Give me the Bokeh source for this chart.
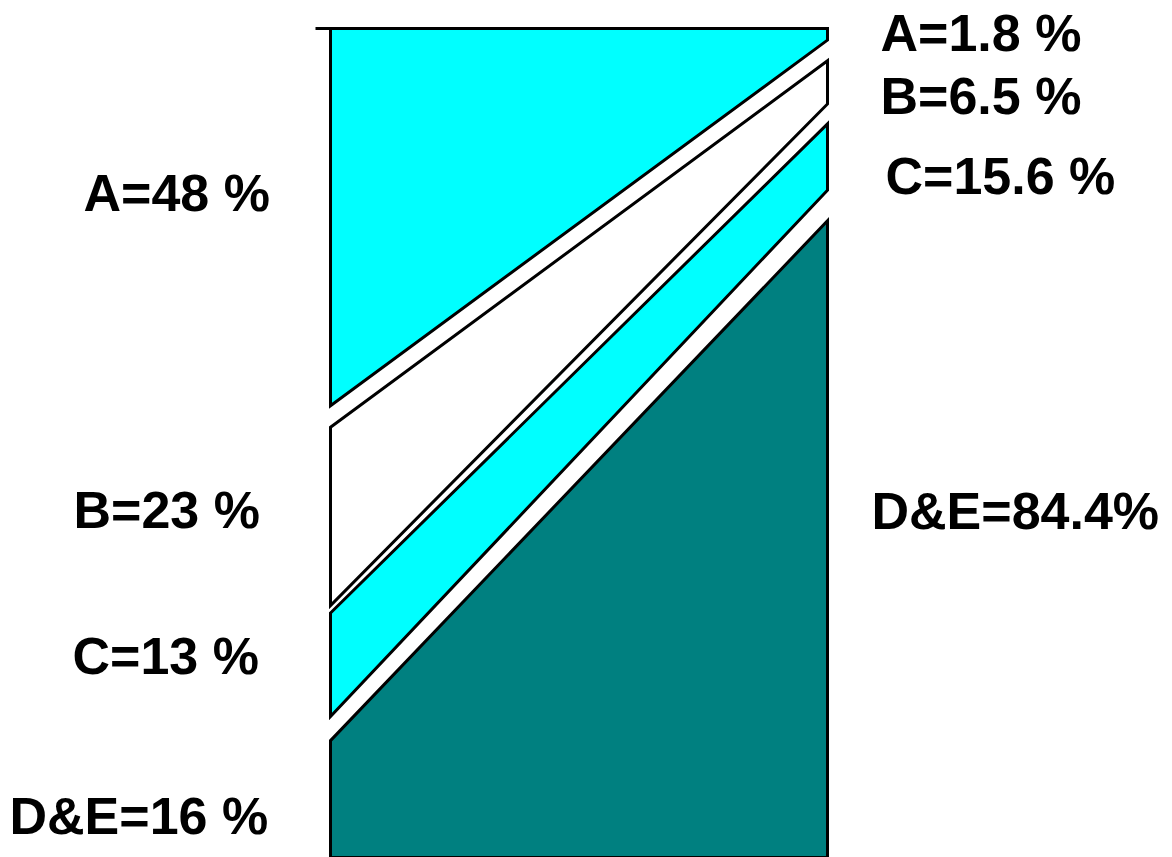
from bokeh.plotting import figure
from bokeh.models import Range1d
from bokeh.core.properties import value
from bokeh.embed import file_html
from bokeh.resources import INLINE

# ---- data (percent of column height, 0 = bottom, 100 = top) ----
bands = ["A", "B", "C", "D&E"]
left_top = [100.0, 51.9, 29.5, 14.1]
left_bottom = [54.5, 30.4, 17.0, 0.0]
right_top = [100.0, 96.1, 88.5, 76.8]
right_bottom = [98.6, 90.9, 80.5, 0.0]
left_labels = ["A=48 %", "B=23 %", "C=13 %", "D&E=16 %"]
right_labels = ["A=1.8 %", "B=6.5 %", "C=15.6 %", "D&E=84.4%"]

# ---- layout / style ----
W, H = 1172, 857
PX_LEFT, PX_RIGHT = 330, 827      # column edges in pixels
PX_TOP, PX_BOTTOM = 28, 857       # 100% and 0% in pixels
sx = PX_RIGHT - PX_LEFT
sy = (PX_BOTTOM - PX_TOP) / 100.0
band_colors = ["#00FFFF", "#FFFFFF", "#00FFFF", "#008080"]
TEXT_SHIFT = -18


def dx(px):
    return (px - PX_LEFT) / sx


def dy(py):
    return (PX_BOTTOM - py) / sy


p = figure(width=W, height=H, output_backend="svg", toolbar_location=None,
           x_range=Range1d(dx(0), dx(W)), y_range=Range1d(dy(H), dy(0)),
           min_border=0, min_border_left=0, min_border_right=0,
           min_border_top=0, min_border_bottom=0)
p.axis.visible = False
p.grid.visible = False
p.outline_line_color = None
p.background_fill_color = "white"
p.border_fill_color = "white"

xs = [[0, 1, 1, 0] for _ in bands]
ys = [[lt, rt, rb, lb] for lt, rt, rb, lb in zip(left_top, right_top, right_bottom, left_bottom)]
p.patches(xs=xs, ys=ys, fill_color=band_colors, line_color="black",
          line_width=3, line_join="miter")

# small tick at top-left corner
p.segment(x0=[dx(315)], y0=[left_top[0]], x1=[0], y1=[left_top[0]],
          line_color="black", line_width=3)

# label positions (left edge x, baseline y) in pixels
left_pos = [(83, 210), (73, 527), (72, 673), (9, 833)]
right_pos = [(880, 50), (880, 113), (885, 193), (871, 528)]

font = value("Liberation Sans")
p.text(x=[dx(a) for a, b in left_pos], y=[dy(b + TEXT_SHIFT) for a, b in left_pos], text=left_labels,
       text_font=font, text_font_style="bold", text_font_size="52px",
       text_align="left", text_baseline="alphabetic", text_color="black")
p.text(x=[dx(a) for a, b in right_pos], y=[dy(b + TEXT_SHIFT) for a, b in right_pos], text=right_labels,
       text_font=font, text_font_style="bold", text_font_size="52px",
       text_align="left", text_baseline="alphabetic", text_color="black")

open("out.html", "w").write(file_html(p, INLINE))
